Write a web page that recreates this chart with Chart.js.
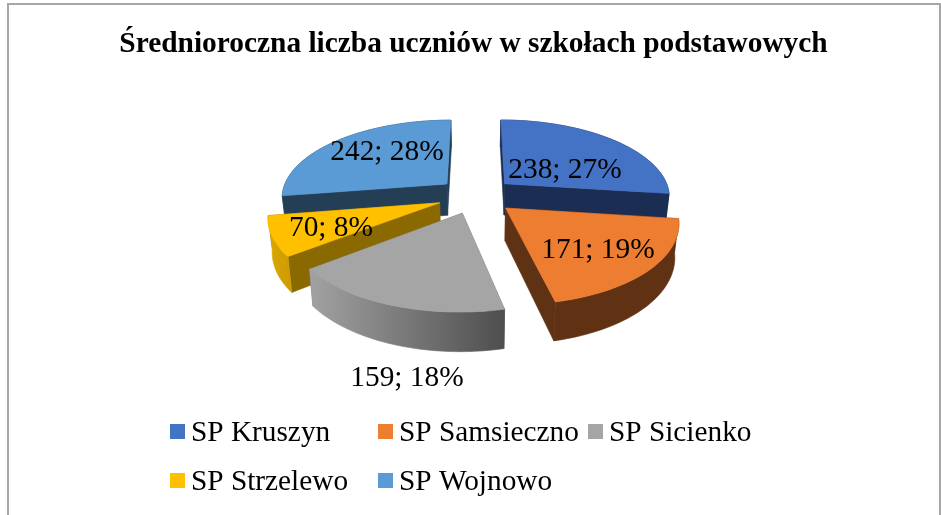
<!DOCTYPE html>
<html lang="pl">
<head>
<meta charset="utf-8">
<style>html,body{margin:0;padding:0;background:#fff}canvas{display:block}</style>
<script src="https://cdn.jsdelivr.net/npm/chart.js@4"></script>
</head>
<body>
<canvas id="c" width="941" height="515"></canvas>
<script>
const TITLE = 'Średnioroczna liczba uczniów w szkołach podstawowych';
const categories = ['SP Kruszyn', 'SP Samsieczno', 'SP Sicienko', 'SP Strzelewo', 'SP Wojnowo'];
const values = [238, 171, 159, 70, 242];
const percents = [27, 19, 18, 8, 28];
const colors = ['#4472C4', '#ED7D31', '#A5A5A5', '#FFC000', '#5B9BD5'];
const radialWallColors = ['#1B2D53', '#5F3213', '#6E6E6E', '#8A6900', '#243E55'];
const outerWallFrom = ['#1B2D53', '#603213', '#A2A2A2', '#DCA800', '#243E55'];
const outerWallTo = ['#1B2D53', '#603213', '#4E4E4E', '#D09C00', '#243E55'];
const FONT = '"Liberation Serif", "Times New Roman", serif';

// 3D view: pie plane projected with a tilt and a mild perspective
const view = {cx: 476, cy: 195.5, tilt: 0.465, persp: 0.000945, explode: 39, depth: 32, bottomScale: 0.98};
const paintOrder = [4, 0, 3, 2, 1];
const labelAt = [[565, 170.5], [598, 250.5], [407, 378.5], [331, 228.5], [387, 152.5]];
const legendSlots = [[170, 431.5], [378, 431.5], [588, 431.5], [170, 480.5], [378, 480.5]];

function project(u, v, down) {
  const s = 1 / (1 - view.persp * v);
  const k = down ? view.bottomScale : 1;
  return [view.cx + u * s * k, view.cy + v * view.tilt * s + (down ? view.depth * s : 0)];
}
function slicePoints(arc, i) {
  const mid = (arc.startAngle + arc.endAngle) / 2;
  const ox = Math.cos(mid) * view.explode, oy = Math.sin(mid) * view.explode;
  const n = Math.max(8, Math.ceil((arc.endAngle - arc.startAngle) * 40));
  const rim = [];
  for (let k = 0; k <= n; k++) {
    const a = arc.startAngle + (arc.endAngle - arc.startAngle) * k / n;
    rim.push([ox + arc.outerRadius * Math.cos(a), oy + arc.outerRadius * Math.sin(a)]);
  }
  return {apex: [ox, oy], rim};
}
function poly(ctx, pts, fill) {
  ctx.beginPath();
  pts.forEach((p, i) => i ? ctx.lineTo(p[0], p[1]) : ctx.moveTo(p[0], p[1]));
  ctx.closePath();
  ctx.fillStyle = fill;
  ctx.fill();
  ctx.strokeStyle = fill;
  ctx.lineWidth = 0.6;
  ctx.stroke();
}

const pie3d = {
  id: 'pie3d',
  beforeDatasetsDraw(chart) {
    const ctx = chart.ctx;
    const arcs = chart.getDatasetMeta(0).data;
    paintOrder.forEach(i => {
      const {apex, rim} = slicePoints(arcs[i], i);
      const top = p => project(p[0], p[1], false);
      const bot = p => project(p[0], p[1], true);
      // radial walls
      const first = rim[0], last = rim[rim.length - 1];
      poly(ctx, [top(apex), top(first), bot(first), bot(apex)], radialWallColors[i]);
      poly(ctx, [top(apex), top(last), bot(last), bot(apex)], radialWallColors[i]);
      // outer wall
      const xs = rim.map(p => top(p)[0]);
      const g = ctx.createLinearGradient(Math.min(...xs), 0, Math.max(...xs), 0);
      g.addColorStop(0, outerWallFrom[i]);
      g.addColorStop(1, outerWallTo[i]);
      poly(ctx, rim.map(top).concat(rim.slice().reverse().map(bot)), g);
      // top face
      poly(ctx, [top(apex)].concat(rim.map(top)), colors[i]);
    });
    return false;
  },
  afterDraw(chart) {
    const ctx = chart.ctx;
    ctx.save();
    // frame
    ctx.strokeStyle = '#A6A6A6';
    ctx.lineWidth = 2;
    ctx.beginPath();
    ctx.moveTo(8, 520); ctx.lineTo(8, 4); ctx.lineTo(940, 4); ctx.lineTo(940, 520);
    ctx.stroke();
    // data labels
    ctx.fillStyle = '#000';
    ctx.font = '29.4px ' + FONT;
    ctx.textAlign = 'center';
    ctx.textBaseline = 'middle';
    values.forEach((v, i) => ctx.fillText(v + '; ' + percents[i] + '%', labelAt[i][0], labelAt[i][1]));
    // legend
    ctx.font = '29.3px ' + FONT;
    ctx.textAlign = 'left';
    categories.forEach((name, i) => {
      const [x, y] = legendSlots[i];
      ctx.fillStyle = colors[i];
      ctx.fillRect(x, y - 7.5, 15, 15);
      ctx.fillStyle = '#000';
      ctx.fillText(name, x + 21, y + 2);
    });
    ctx.restore();
  }
};

new Chart(document.getElementById('c'), {
  type: 'pie',
  data: {labels: categories, datasets: [{data: values, backgroundColor: colors, borderWidth: 0}]},
  options: {
    responsive: false,
    animation: false,
    radius: 166,
    rotation: 0,
    layout: {padding: {left: 6}},
    plugins: {
      legend: {display: false},
      tooltip: {enabled: false},
      title: {display: true, text: TITLE, color: '#000', font: {family: FONT, size: 29.4, weight: 'bold'}, padding: {top: 27, bottom: 10}}
    }
  },
  plugins: [pie3d]
});
</script>
</body>
</html>
